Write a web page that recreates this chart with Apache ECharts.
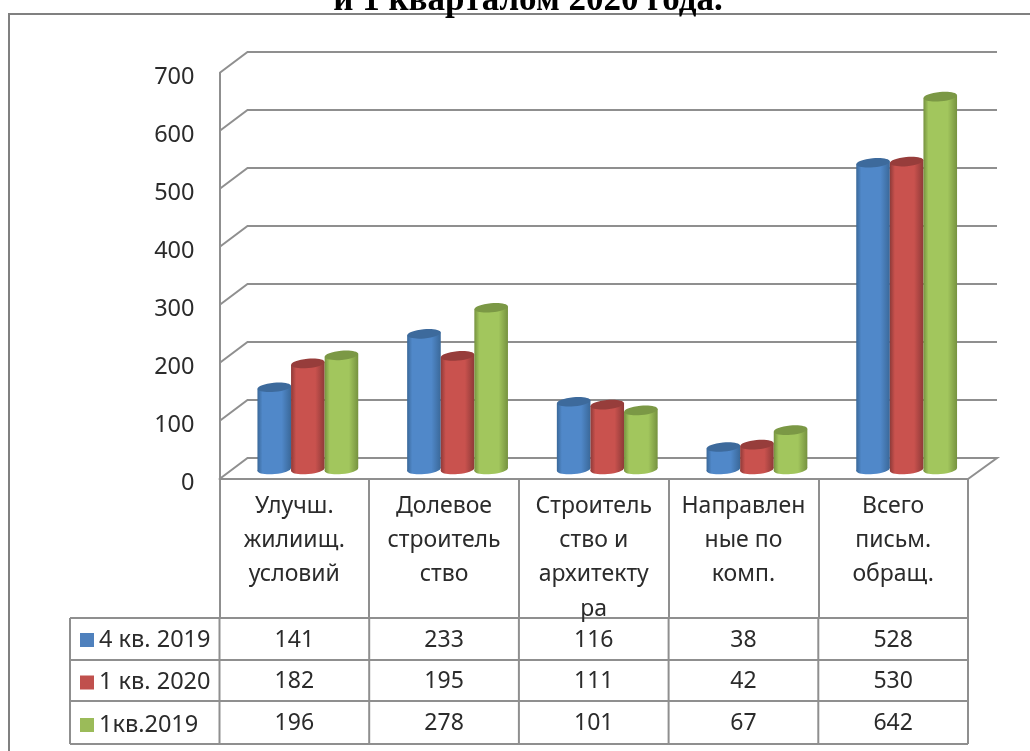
<!DOCTYPE html>
<html>
<head>
<meta charset="utf-8">
<title>Письменные обращения</title>
<script src="https://cdn.jsdelivr.net/npm/echarts@6/dist/echarts.min.js"></script>
<style>
  html, body { margin: 0; padding: 0; background: #fff; overflow: hidden; }
  #chart { width: 1030px; height: 751px; }
</style>
</head>
<body>
<div id="chart"></div>
<script>
const titleText = 'и 1 кварталом 2020 года.'
const categories = [
  'Улучш.\nжилиищ.\nусловий',
  'Долевое\nстроитель\nство',
  'Строитель\nство и\nархитекту\nра',
  'Направлен\nные по\nкомп.',
  'Всего\nписьм.\nобращ.'
]
const seriesNames = ['4 кв. 2019', '1 кв. 2020', '1кв.2019']
const q4of2019 = [141, 233, 116, 38, 528]
const q1of2020 = [182, 195, 111, 42, 530]
const q1of2019 = [196, 278, 101, 67, 642]
const yTicks = [0, 100, 200, 300, 400, 500, 600, 700]

const seriesValues = [q4of2019, q1of2020, q1of2019]
const legendColors = ['#4f81bd', '#c0504d', '#9bbb59']
const barShades = [
  { edge: '#3a6899', mid: '#5088c9', top: '#3d6a9c' },
  { edge: '#8e3a38', mid: '#c9524e', top: '#973d3b' },
  { edge: '#76923f', mid: '#a2c65d', top: '#7b9845' }
]

const lineColor = '#8f8f8f'
const textColor = '#2b2b2b'
const fontFamily = '"Noto Sans", sans-serif'

// depth of the 3d box, front corner to back corner
const depthX = 28
const depthY = 21
const barW = 33.6
const barRy = 4.6
const tilt = 1.5

const plotLeft = 219.5
const plotRight = 968
const rowLines = [618, 660, 701, 744]
const tableLeft = 70

// one back wall gridline with its short diagonal on the left side
const renderWall = (params, api) => {
  const cs = params.coordSys
  const y = api.coord([0, api.value(0)])[1]
  const left = cs.x
  const right = cs.x + cs.width
  const style = { stroke: lineColor, lineWidth: 2, fill: null }
  if (api.value(0) === 0) {
    return {
      type: 'polyline',
      shape: { points: [[left, y], [left + depthX, y - depthY], [right + depthX + 1, y - depthY], [right, y]] },
      style
    }
  }
  return {
    type: 'polyline',
    shape: { points: [[left, y], [left + depthX, y - depthY], [right + depthX + 1, y - depthY]] },
    style
  }
}

// cylinder standing in the middle of the box depth
const makeCylinder = (idx) => (params, api) => {
  const base = api.coord([api.value(0), 0])
  const top = api.coord([api.value(0), api.value(1)])
  const cx = base[0] + 13.5 + (idx - 1) * barW
  const yBase = base[1] - 9.5
  const yTop = top[1] - 10
  const s = barShades[idx]
  const fill = {
    type: 'linear', x: 0, y: 0, x2: 1, y2: 0,
    colorStops: [
      { offset: 0, color: s.edge },
      { offset: 0.15, color: s.mid },
      { offset: 0.72, color: s.mid },
      { offset: 1, color: s.edge }
    ]
  }
  const hw = barW / 2
  return {
    type: 'group',
    children: [
      {
        type: 'ellipse',
        shape: { cx, cy: yBase, rx: hw, ry: barRy },
        rotation: 0.09,
        originX: cx,
        originY: yBase,
        style: { fill }
      },
      {
        type: 'polygon',
        shape: { points: [[cx - hw, yTop + tilt], [cx + hw, yTop - tilt], [cx + hw, yBase - tilt], [cx - hw, yBase + tilt]] },
        style: { fill }
      },
      {
        type: 'ellipse',
        shape: { cx, cy: yTop, rx: hw, ry: barRy },
        rotation: 0.09,
        originX: cx,
        originY: yTop,
        style: { fill: s.top }
      }
    ]
  }
}

const chart = echarts.init(document.getElementById('chart'), null, { renderer: 'canvas' })

chart.setOption({
  animation: false,
  backgroundColor: '#fff',
  title: {
    text: titleText,
    left: 523,
    top: -22,
    textAlign: 'center',
    textStyle: { fontFamily: '"Liberation Serif", serif', fontWeight: 'bold', fontSize: 35, color: '#000' }
  },
  legend: {
    orient: 'vertical',
    left: 80,
    top: 628,
    padding: 0,
    icon: 'rect',
    itemWidth: 14,
    itemHeight: 14,
    itemGap: 18.5,
    align: 'left',
    data: seriesNames,
    textStyle: { fontFamily, fontSize: 23.5, color: textColor, lineHeight: 22 }
  },
  grid: { left: plotLeft, right: 1030 - plotRight, top: 73, bottom: 272 },
  xAxis: {
    type: 'category',
    data: categories,
    axisLine: { lineStyle: { color: lineColor, width: 2 } },
    axisTick: { show: true, length: 139, lineStyle: { color: lineColor, width: 2 } },
    axisLabel: {
      interval: 0,
      margin: 10,
      fontFamily,
      fontSize: 23,
      lineHeight: 34.3,
      color: textColor,
      verticalAlign: 'top'
    }
  },
  yAxis: {
    type: 'value',
    min: 0,
    max: 700,
    interval: 100,
    axisLine: { show: true, lineStyle: { color: lineColor, width: 2 } },
    axisTick: { show: false },
    splitLine: { show: false },
    axisLabel: { margin: 25, fontFamily, fontSize: 23.5, color: textColor, verticalAlign: 'top', lineHeight: 8 }
  },
  series: [
    {
      type: 'custom',
      name: 'walls',
      silent: true,
      z: 1,
      renderItem: renderWall,
      encode: { y: 0 },
      data: yTicks
    },
    ...seriesNames.map((name, idx) => ({
      type: 'custom',
      name,
      z: 2 + idx,
      itemStyle: { color: legendColors[idx] },
      renderItem: makeCylinder(idx),
      encode: { x: 0, y: 1 },
      data: seriesValues[idx].map((v, i) => [i, v])
    }))
  ]
})

// data table below the axis, columns follow the category scale
const tableGraphics = []
const addLine = (x1, y1, x2, y2) => {
  tableGraphics.push({
    type: 'line',
    shape: { x1, y1, x2, y2 },
    style: { stroke: lineColor, lineWidth: 2 }
  })
}
const rowTop = rowLines[0]
const rowBottom = rowLines[rowLines.length - 1]
rowLines.forEach(y => addLine(tableLeft, y, plotRight, y))
addLine(tableLeft, rowTop, tableLeft, rowBottom)
categories.forEach((c, i) => {
  const cx = chart.convertToPixel({ xAxisIndex: 0 }, i)
  const nextEdge = cx + (plotRight - plotLeft) / categories.length / 2
  addLine(nextEdge, rowTop, nextEdge, rowBottom)
  if (i === 0) addLine(cx - (nextEdge - cx), rowTop, cx - (nextEdge - cx), rowBottom)
  seriesValues.forEach((vals, r) => {
    tableGraphics.push({
      type: 'text',
      x: cx,
      y: (rowLines[r] + rowLines[r + 1]) / 2 + 1,
      style: {
        text: String(vals[i]),
        fill: textColor,
        font: '23px ' + fontFamily,
        textAlign: 'center',
        textVerticalAlign: 'middle'
      }
    })
  })
})

chart.setOption({
  graphic: [
    {
      type: 'polyline',
      shape: { points: [[9, 751], [9, 14], [1030, 14]] },
      style: { stroke: '#808080', lineWidth: 2, fill: null }
    },
    ...tableGraphics
  ]
})
</script>
</body>
</html>
